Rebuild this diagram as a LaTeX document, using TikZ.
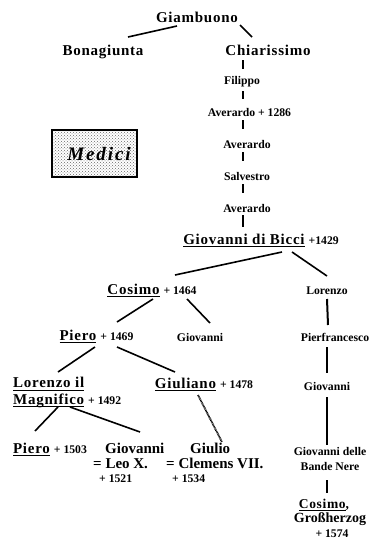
\documentclass[tikz,border=0pt]{standalone}
\usepackage{fontspec}
\setmainfont{Liberation Serif}
\newfontfamily\namefont[LetterSpace=5]{Liberation Serif}
\newfontfamily\medicifont[LetterSpace=10]{Liberation Serif}
\usetikzlibrary{patterns}
\newcommand\myul[1]{\setbox0\hbox{#1}\rlap{\rule[-3pt]{\wd0}{0.6pt}}\box0}
\newcommand\yr[1]{\hspace{4pt}{\normalfont\bfseries\fontsize{11.7}{13}\selectfont #1}}
\tikzset{
  big/.style={font=\namefont\bfseries\fontsize{15}{16}\selectfont, inner sep=0pt, anchor=base, align=center},
  small/.style={font=\bfseries\fontsize{11.7}{15}\selectfont, inner sep=0pt, anchor=base, align=center},
  conn/.style={line width=1.6pt},
  thin/.style={line width=1.1pt},
  vline/.style={line width=2pt},
  illeg/.style={line width=1.8pt, dash pattern=on 0.8pt off 0.6pt}
}
\begin{document}
\begin{tikzpicture}[x=1pt,y=-1pt]
\useasboundingbox (0,0) rectangle (372,542);
% names
\node[big] (gia) at (197,22) {Giambuono};
\node[big] (bona) at (103,55) {Bonagiunta};
\node[big] (chia) at (268,55) {Chiarissimo};
\node[small] (fil) at (242,84) {Filippo};
\node[small] (ave1) at (249.5,116) {Averardo + 1286};
\node[small] (ave2) at (247,148) {Averardo};
\node[small] (sal) at (247,180) {Salvestro};
\node[small] (ave3) at (247,212) {Averardo};
\node[big] (gdb) at (261,244) {\myul{Giovanni di Bicci}\yr{+1429}};
\node[big] (cos) at (152,294) {\myul{Cosimo}\yr{+ 1464}};
\node[small] (lor) at (327,294) {Lorenzo};
\node[big] (pie) at (96.5,340) {\myul{Piero}\yr{+ 1469}};
\node[small] (gio1) at (200,341) {Giovanni};
\node[small] (pfr) at (335,341) {Pierfrancesco};
\node[big, align=left, anchor=base west, font=\namefont\bfseries\fontsize{15}{16.5}\selectfont] (lim) at (13,404) {\myul{Lorenzo il}\\\myul{Magnifico}\yr{+ 1492}};
\node[big] (giu) at (204,388) {\myul{Giuliano}\yr{+ 1478}};
\node[small] (gio2) at (327,390) {Giovanni};
\node[big] (pie2) at (50,453) {\myul{Piero}\yr{+ 1503}};
\node[big, align=left, anchor=base west, font=\bfseries\fontsize{15}{15}\selectfont] (leo) at (93,482) {\hspace*{12pt}Giovanni\\= Leo X.\\[-1pt]\hspace*{2pt}\yr{+ 1521}};
\node[big, align=left, anchor=base west, font=\bfseries\fontsize{15}{15}\selectfont] (giul) at (166,482) {\hspace*{24pt}Giulio\\= Clemens VII.\\[-1pt]\hspace*{2pt}\yr{+ 1534}};
\node[small, font=\bfseries\fontsize{11.7}{15}\selectfont] (gbn) at (330,470) {Giovanni delle\\Bande Nere};
\node[big, font=\bfseries\fontsize{14}{14.5}\selectfont] (cgh) at (330,537) {\hspace*{-12pt}{\namefont\fontsize{13.5}{14.5}\selectfont\myul{Cosimo},}\\Großherzog\\\yr{+ 1574}};
% Medici box
\node[draw, line width=1.6pt, pattern=crosshatch dots, pattern color=black!60, minimum width=85pt, minimum height=47pt, inner sep=0pt,
  font=\medicifont\bfseries\itshape\fontsize{19}{20}\selectfont] (med) at (94.5,153.5) {\hspace*{9pt}Medici};
% connectors
\draw[conn] ([shift={(-20,4)}]gia.base) -- ([shift={(25,-18)}]bona.base);
\draw[conn] ([shift={(43,3)}]gia.base) -- ([shift={(-16,-18)}]chia.base);
\draw[thin] ([shift={(-25,5)}]chia.base) -- ([shift={(1,-15)}]fil.base);
\draw[thin] ([shift={(1,7)}]fil.base) -- ([shift={(-6.5,-17)}]ave1.base);
\draw[thin] ([shift={(-6.5,4)}]ave1.base) -- ([shift={(-4,-19)}]ave2.base);
\draw[thin] ([shift={(-4,4)}]ave2.base) -- ([shift={(-4,-19)}]sal.base);
\draw[thin] ([shift={(-4,4)}]sal.base) -- ([shift={(-4,-19)}]ave3.base);
\draw[thin] ([shift={(-4,3)}]ave3.base) -- ([shift={(-18,-17)}]gdb.base);
\draw[conn] ([shift={(21,8)}]gdb.base) -- ([shift={(23,-19)}]cos.base);
\draw[conn] ([shift={(31,8)}]gdb.base) -- ([shift={(0,-18)}]lor.base);
\draw[vline] ([shift={(0,5)}]lor.base) -- ([shift={(-7,-16)}]pfr.base);
\draw[conn] ([shift={(1,5)}]cos.base) -- ([shift={(20.5,-18)}]pie.base);
\draw[conn] ([shift={(35,5)}]cos.base) -- ([shift={(10,-18)}]gio1.base);
\draw[conn] ([shift={(-1.5,7)}]pie.base) -- ([shift={(45,-32)}]lim.base west);
\draw[conn] ([shift={(20.5,7)}]pie.base) -- ([shift={(-29,-16)}]giu.base);
\draw[illeg] ([shift={(-6,7)}]giu.base) -- ([shift={(56,-40)}]giul.base west);
\draw[conn] ([shift={(45,3)}]lim.base west) -- ([shift={(-15,-22)}]pie2.base);
\draw[conn] ([shift={(57,3)}]lim.base west) -- ([shift={(47,-50)}]leo.base west);
\draw[vline] ([shift={(-8,6)}]pfr.base) -- ([shift={(0,-17)}]gio2.base);
\draw[vline] ([shift={(0,7)}]gio2.base) -- ([shift={(-3,-25)}]gbn.base);
\draw[vline] ([shift={(-3,10)}]gbn.base) -- ([shift={(-3,-44)}]cgh.base);
\end{tikzpicture}
\end{document}
